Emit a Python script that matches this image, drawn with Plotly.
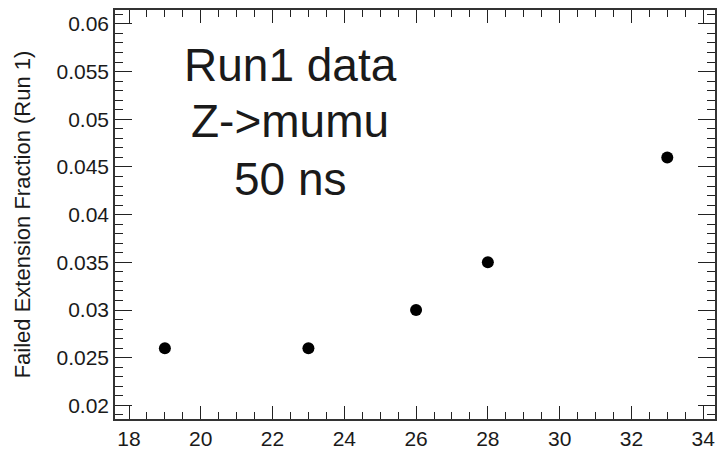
import plotly.graph_objects as go

pileup = [19, 23, 26, 28, 33]
failed_fraction = [0.026, 0.026, 0.030, 0.035, 0.046]
x_ticks = [18, 20, 22, 24, 26, 28, 30, 32, 34]
y_ticks = [0.02, 0.025, 0.03, 0.035, 0.04, 0.045, 0.05, 0.055, 0.06]
y_tick_text = ["0.02", "0.025", "0.03", "0.035", "0.04", "0.045", "0.05", "0.055", "0.06"]
labels = ["Run1 data", "Z->mumu", "50 ns"]

FONT = "Liberation Sans, Arial, Helvetica, sans-serif"

fig = go.Figure()
fig.add_trace(go.Scatter(
    x=pileup, y=failed_fraction, mode="markers",
    marker=dict(color="black", size=12, symbol="circle"),
    showlegend=False,
))

W, H = 717, 450
L, R, T, B = 115, 0, 10, 28

fig.update_layout(
    width=W, height=H,
    margin=dict(l=L, r=R, t=T, b=B),
    paper_bgcolor="white", plot_bgcolor="white",
    font=dict(family=FONT, color="#1a1a1a"),
    showlegend=False,
)

fig.update_xaxes(
    range=[17.61, 34.33],
    tickmode="array", tickvals=x_ticks,
    ticks="inside", ticklen=13, tickwidth=1.3, tickcolor="#222",
    showline=True, linecolor="#333", linewidth=1.5, mirror="allticks",
    showgrid=False, zeroline=False,
    tickfont=dict(size=21, family=FONT, color="#1a1a1a"),
    minor=dict(dtick=0.5, tick0=18, ticks="inside", ticklen=7, tickwidth=1.2, tickcolor="#222", showgrid=False),
)
fig.update_yaxes(
    range=[0.01857, 0.06146],
    tickmode="array", tickvals=y_ticks, ticktext=y_tick_text,
    ticks="inside", ticklen=17, tickwidth=1.3, tickcolor="#222",
    showline=True, linecolor="#333", linewidth=1.5, mirror="allticks",
    showgrid=False, zeroline=False,
    tickfont=dict(size=21, family=FONT, color="#1a1a1a"),
    minor=dict(dtick=0.001, tick0=0.02, ticks="inside", ticklen=8, tickwidth=1.2, tickcolor="#222", showgrid=False),
    title=dict(text="Failed Extension Fraction (Run 1)", font=dict(size=22, family=FONT, color="#1a1a1a"), standoff=20),
)

ys = [65, 122, 180]
for txt, yp in zip(labels, ys):
    fig.add_annotation(
        text=txt, xref="paper", yref="paper",
        x=(291 - L) / (W - L - R), y=1 - (yp - T) / (H - T - B),
        showarrow=False, xanchor="center", yanchor="middle",
        font=dict(size=46, family=FONT, color="#1a1a1a"),
    )

fig.write_html("out.html")
